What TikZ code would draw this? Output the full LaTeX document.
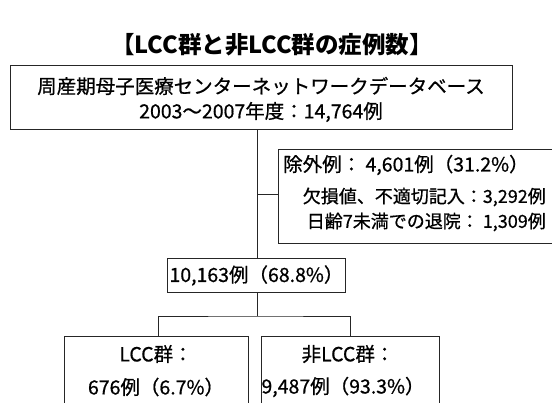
\documentclass[tikz,border=0pt]{standalone}
\usepackage{fontspec}
\setmainfont{Noto Sans CJK JP}
\newfontfamily\jp[FakeBold=0.7]{Noto Sans CJK JP}
\newfontfamily\jpt{Noto Sans CJK JP}
\begin{document}
\begin{tikzpicture}[x=1pt,y=-1pt,
  box/.style={draw=black!85,line width=0.9pt,inner sep=0pt},
  txt/.style={inner sep=0pt,font=\jp\fontsize{19.5}{22}\selectfont},
  small/.style={inner sep=0pt,font=\jp\fontsize{18}{21}\selectfont},
  conn/.style={draw=black!85,line width=0.9pt}]
\useasboundingbox (0,0) rectangle (552,402);
\fill[white] (0,0) rectangle (552,402);
% title
\node[inner sep=0pt,font=\jpt\bfseries\fontsize{23.5}{26}\selectfont] (title) at (272,45) {【LCC群と非LCC群の症例数】};
% top box
\node[box,minimum width=502pt,minimum height=64pt,anchor=north west] (db) at (10,65) {};
\node[txt] (db1) at (261,86) {周産期母子医療センターネットワークデータベース};
\node[txt] (db2) at (261,112) {2003～2007年度：14,764例};
% exclusion box (extends past the right edge)
\node[box,minimum width=282pt,minimum height=94pt,anchor=north west] (ex) at (278,149) {};
\node[txt,anchor=west] (ex1) at (283,165) {除外例： 4,601例（31.2\%）};
\node[small,anchor=east] (ex2) at (546,197) {欠損値、不適切記入：3,292例};
\node[small,anchor=east] (ex3) at (546,222) {日齢7未満での退院： 1,309例};
% middle box
\node[box,minimum width=178pt,minimum height=34pt,anchor=north west] (mid) at (167,258) {};
\node[txt] (mid1) at (mid.center) {10,163例（68.8\%）};
% bottom boxes (cut off at the bottom)
\node[box,minimum width=184pt,minimum height=80pt,anchor=north west] (lcc) at (64,336) {};
\node[txt] (lcc1) at (156,354) {LCC群：};
\node[txt] (lcc2) at (156,387) {676例（6.7\%）};
\node[box,minimum width=178pt,minimum height=80pt,anchor=north west] (non) at (261,336) {};
\node[txt] (non1) at (348,354) {非LCC群：};
\node[txt] (non2) at (343,387) {9,487例（93.3\%）};
% connectors
\coordinate (jx) at (257,194);
\coordinate (br) at (257,316);
\draw[conn] (db.south -| jx) -- (mid.north -| jx);
\draw[conn] (jx) -- (jx -| ex.west);
\draw[conn] (mid.south -| br) -- (br);
\draw[conn] (lcc.north -| 158,0) |- (br) -| (non.north -| 350,0);
\end{tikzpicture}
\end{document}
